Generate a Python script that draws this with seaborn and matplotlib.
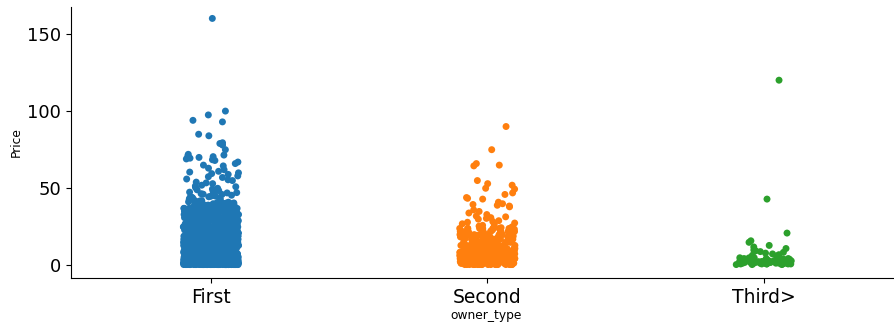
import numpy as np
import pandas as pd
import matplotlib
matplotlib.use('Agg')
import matplotlib.pyplot as plt
import seaborn as sns

owner_types = ['First', 'Second', 'Third>']

first_sparse = [
    160.0, 100.0, 97.5, 94.0, 93.0, 85.0, 84.0, 79.5, 79.0, 78.0, 75.0, 72.0, 71.5, 71.0, 70.5, 70.0, 69.5, 69.0,
    68.5, 68.0, 67.0, 66.0, 65.0, 64.5, 63.0, 62.0, 61.0, 60.5, 60.0, 59.5, 59.0, 58.0, 57.5, 57.0, 56.0, 55.5,
    55.0, 54.0, 53.5, 53.0, 52.0, 51.5, 51.0, 50.5, 50.0, 49.5, 49.0, 48.5, 48.0, 47.5, 47.0, 46.5, 46.0, 45.5,
    45.0, 44.8, 44.5, 44.0, 43.7, 43.2, 43.0, 42.8, 42.3, 42.0, 41.8, 41.4, 41.0, 40.8, 40.5, 40.2,
    47.2, 46.2, 45.2, 44.2, 43.4, 42.6, 41.6, 41.2, 40.6, 40.4, 40.1, 40.0,
]
first_levels = [0.6, 1.5, 2.5, 3.5, 4.5, 5.5, 6.5, 7.5, 8.5, 9.5, 11, 13, 15, 17, 19, 21, 23, 25, 27, 29, 31, 33, 35, 37, 39]
first_counts = [60, 75, 75, 70, 60, 50, 45, 40, 35, 30, 50, 45, 40, 40, 35, 34, 32, 32, 30, 30, 30, 30, 30, 40, 20]

second_sparse = [
    90.0, 75.0, 66.0, 65.0, 64.5, 55.0, 53.0, 52.0, 50.0, 49.5, 47.0, 46.0, 44.0, 43.5, 43.0, 41.0, 40.0, 39.5,
    39.0, 38.5, 38.0, 36.0, 35.0, 34.0, 33.0, 32.0, 31.5, 31.0, 30.5, 30.0, 29.0, 28.5, 28.0, 27.5, 27.0, 26.5,
    26.0, 25.5, 25.0, 24.5, 24.0, 23.5, 23.0, 22.5, 22.0, 21.5, 21.0, 20.5, 20.0, 19.5, 19.0,
]
second_levels = [0.6, 1.5, 2.5, 3.5, 4.5, 5.5, 6.5, 7.5, 8.5, 9.5, 11, 13, 15, 17, 18.5, 20, 22, 24]
second_counts = [20, 34, 38, 34, 30, 28, 23, 20, 20, 18, 26, 22, 18, 14, 8, 12, 10, 8]

third_sparse = [120.0, 43.0, 21.0, 16.0, 15.0, 13.0, 12.0, 11.0, 10.0, 9.5, 9.0, 8.5, 8.0, 7.5, 7.0, 6.6, 6.2, 5.8]
third_levels = [0.6, 1.0, 1.5, 2.0, 2.5, 3.0, 3.5, 4.0, 4.5, 5.0]
third_counts = [3, 8, 12, 12, 10, 9, 7, 6, 4, 3]

first_prices = first_sparse + np.repeat(first_levels, first_counts).tolist()
second_prices = second_sparse + np.repeat(second_levels, second_counts).tolist()
third_prices = third_sparse + np.repeat(third_levels, third_counts).tolist()

df = pd.DataFrame({
    'owner_type': [owner_types[0]] * len(first_prices) + [owner_types[1]] * len(second_prices) + [owner_types[2]] * len(third_prices),
    'Price': first_prices + second_prices + third_prices,
})

# seaborn takes the strip jitter from numpy's global state, this seed puts the outliers in place
np.random.seed(89071)

fig = plt.figure(figsize=(8.95, 3.22), dpi=100)
ax = fig.add_axes([71 / 895, 1 - 278 / 322, 831 / 895, 271 / 322])
sns.stripplot(data=df, x='owner_type', y='Price', hue='owner_type', order=owner_types,
              palette='tab10', legend=False, ax=ax)
sns.despine(ax=ax)
ax.set_xlim(-0.506, 2.5)
ax.set_ylim(-8.1, 167.4)
ax.tick_params(axis='x', labelsize=13.5)
ax.tick_params(axis='y', labelsize=13)
ax.set_xlabel('owner_type', fontsize=8.8, labelpad=1.5)
ax.set_ylabel('Price', fontsize=8.8, labelpad=3)
fig.savefig('out.png', dpi=100)
